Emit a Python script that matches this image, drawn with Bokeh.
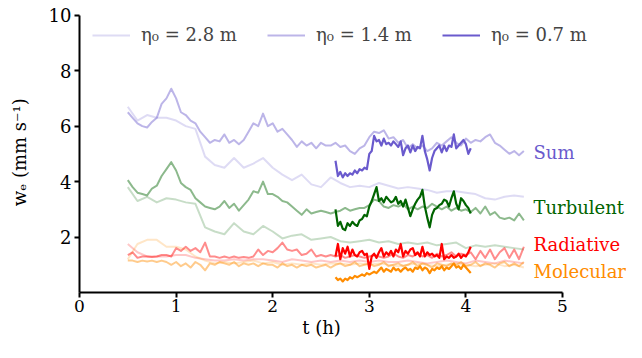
import numpy as np
from bokeh.plotting import figure
from bokeh.models import Range1d, FixedTicker, Legend, LegendItem, Label
from bokeh.embed import file_html
from bokeh.resources import INLINE

# time grids (h)
t_28 = np.round(np.arange(0.5, 4.6001, 0.1), 3)
t_14 = np.round(np.arange(0.5, 4.6001, 0.05), 3)
t_07 = np.round(np.arange(2.65, 4.0501, 0.025), 3)

# eta0 = 2.8 m
sum_28 = [6.7, 6.2, 6.4, 6.3, 6.3, 6.2, 6.0, 5.9, 4.9, 4.6,
          4.5, 4.85, 4.5, 4.65, 4.85, 4.5, 4.25, 4.05, 4.25, 3.9,
          3.8, 4.15, 3.95, 3.8, 3.85, 3.8, 3.95, 3.85, 3.75, 3.8,
          3.75, 3.7, 3.6, 3.65, 3.65, 3.6, 3.55, 3.4, 3.35, 3.45,
          3.5, 3.45]
turb_28 = [3.8, 3.3, 3.45, 3.25, 3.4, 3.35, 3.25, 3.2, 2.35, 2.2,
           2.1, 2.5, 2.2, 2.1, 2.4, 2.2, 1.95, 2.05, 2.1, 1.9,
           1.95, 2.0, 1.85, 1.8, 1.85, 1.9, 1.8, 1.85, 1.75, 1.8,
           1.75, 1.8, 1.7, 1.75, 1.8, 1.6, 1.7, 1.65, 1.7, 1.65,
           1.6, 1.55]
rad_28 = [1.75, 1.45, 1.3, 1.3, 1.3, 1.35, 1.35, 1.25, 1.2, 1.15,
          1.15, 1.2, 1.15, 1.2, 1.2, 1.15, 1.1, 1.2, 1.15, 1.1,
          1.15, 1.1, 1.15, 1.1, 1.15, 1.1, 1.15, 1.1, 1.1, 1.15,
          1.1, 1.05, 1.1, 1.15, 1.1, 1.05, 1.15, 1.1, 1.05, 1.15,
          1.1, 1.05]
mol_28 = [1.2, 1.75, 1.9, 1.9, 1.65, 1.65, 1.55, 1.3, 1.15, 1.05,
          1.1, 1.05, 1.1, 1.15, 1.05, 1.1, 1.0, 1.05, 1.0, 1.05,
          1.0, 1.05, 1.05, 1.0, 1.05, 1.0, 1.05, 1.0, 0.95, 1.0,
          1.05, 1.0, 0.95, 1.0, 1.05, 1.0, 0.95, 1.0, 1.05, 0.95,
          1.0, 0.9]

# eta0 = 1.4 m
sum_14 = [6.5, 6.3, 6.1, 6.0, 5.95, 6.15, 6.3, 6.8, 7.0, 7.35,
          7.0, 6.5, 6.4, 6.2, 6.1, 5.8, 5.6, 5.4, 5.5, 5.45,
          5.7, 5.4, 5.5, 5.35, 5.5, 5.8, 6.1, 6.0, 6.45, 6.0,
          6.1, 5.8, 5.9, 5.7, 5.5, 5.25, 5.45, 5.3, 5.4, 5.2,
          5.4, 5.3, 5.3, 5.4, 5.25, 5.3, 5.1, 5.0, 5.2, 5.3,
          5.6, 5.8, 5.75, 5.85, 5.55, 5.6, 5.4, 5.5, 5.2, 5.35,
          5.2, 5.3, 5.1, 5.2, 5.4, 5.3, 5.45, 5.6, 5.4, 5.3,
          5.55, 5.4, 5.5, 5.45, 5.6, 5.7, 5.4, 5.3, 5.15, 5.0,
          5.1, 4.95, 5.1]
turb_14 = [4.05, 3.8, 3.6, 3.55, 3.5, 3.75, 3.85, 4.2, 4.45, 4.7,
           4.4, 3.95, 3.8, 3.7, 3.4, 3.25, 3.1, 3.05, 3.0, 3.1,
           3.3, 3.05, 3.2, 2.95, 3.15, 3.35, 3.65, 3.6, 4.0, 3.55,
           3.55, 3.45, 3.3, 3.25, 3.1, 2.95, 2.8, 3.0, 2.85, 2.9,
           2.95, 2.9, 2.85, 2.9, 2.95, 3.05, 2.95, 3.0, 3.05, 3.05,
           3.15, 3.35, 3.3, 3.1, 3.05, 3.15, 3.1, 3.2, 3.0, 3.1,
           3.0, 3.1, 3.05, 3.2, 3.1, 3.0, 3.1, 2.95, 3.05, 2.95,
           3.0, 2.9, 3.05, 2.85, 3.1, 2.8, 2.9, 2.7, 2.65, 2.7,
           2.6, 2.85, 2.6]
rad_14 = [1.35, 1.45, 1.25, 1.3, 1.3, 1.28, 1.3, 1.35, 1.35, 1.3,
          1.6, 1.5, 1.65, 1.5, 1.6, 1.45, 1.8, 1.3, 1.3, 1.25,
          1.3, 1.25, 1.3, 1.25, 1.28, 1.25, 1.3, 1.55, 1.35, 1.5,
          1.45, 1.6, 1.8, 1.55, 1.5, 1.55, 1.35, 1.4, 1.55, 1.3,
          1.35, 1.3, 1.35, 1.3, 1.35, 1.25, 1.3, 1.35, 1.3, 1.25,
          1.3, 1.35, 1.3, 1.25, 1.3, 1.4, 1.3, 1.25, 1.35, 1.3,
          1.4, 1.3, 1.35, 1.25, 1.4, 1.3, 1.35, 1.45, 1.3, 1.4,
          1.35, 1.45, 1.2, 1.5, 1.25, 1.55, 1.2, 1.45, 1.6, 1.25,
          1.55, 1.2, 1.65]
mol_14 = [1.15, 1.15, 1.1, 1.15, 1.12, 1.15, 1.1, 1.15, 1.1, 1.0,
          1.1, 0.95, 1.05, 0.9, 1.1, 1.0, 0.8, 1.05, 1.0, 1.1,
          1.05, 1.0, 1.1, 0.95, 1.05, 1.0, 1.05, 0.95, 1.05, 1.0,
          1.0, 0.9, 1.05, 0.95, 1.0, 0.9, 1.0, 0.95, 1.0, 0.9,
          0.95, 1.0, 0.9, 1.0, 1.05, 0.95, 1.0, 1.1, 0.95, 1.0,
          1.05, 0.95, 1.0, 1.1, 0.95, 1.0, 1.05, 0.95, 1.0, 1.1,
          0.95, 1.05, 1.0, 0.9, 1.05, 1.0, 0.95, 1.05, 1.0, 1.1,
          0.95, 1.0, 1.1, 0.95, 1.05, 1.0, 0.9, 1.05, 1.1, 0.95,
          1.05, 0.95, 1.1]

# eta0 = 0.7 m
sum_07 = [4.75, 4.2, 4.35, 4.15, 4.3, 4.2, 4.3, 4.25, 4.4, 4.3,
          4.45, 4.4, 4.5, 4.45, 5.0, 5.1, 5.65, 5.45, 5.5, 5.3,
          5.55, 5.35, 5.4, 5.3, 5.45, 5.35, 5.25, 5.45, 4.95, 5.2,
          5.3, 5.05, 5.3, 5.1, 5.25, 5.2, 5.65, 5.1, 4.8, 4.4,
          4.85, 5.1, 5.2, 5.3, 5.05, 5.3, 5.1, 5.3, 5.25, 5.7,
          5.2, 5.3, 5.4, 5.5, 5.35, 5.0, 5.2]
turb_07 = [3.0, 2.4, 2.55, 2.3, 2.25, 2.5, 2.4, 2.55, 2.45, 2.4,
           2.6, 2.65, 2.8, 2.75, 3.1, 3.3, 3.55, 3.8, 3.3, 3.4,
           3.25, 3.45, 3.35, 3.25, 3.3, 3.45, 3.2, 3.3, 3.1, 3.35,
           3.05, 2.75, 3.0, 3.2, 3.35, 3.45, 3.7, 3.1, 2.7, 2.35,
           2.8, 3.0, 3.05, 3.15, 3.2, 3.35, 3.3, 3.1, 3.4, 3.65,
           3.2, 3.0, 3.4, 3.3, 3.15, 3.05, 2.85]
rad_07 = [1.3, 1.75, 1.2, 1.6, 1.4, 1.65, 1.3, 1.55, 1.35, 1.3,
          1.45, 1.5, 1.35, 1.4, 0.85, 1.3, 1.4, 1.25, 1.45, 1.6,
          1.3, 1.45, 1.35, 1.5, 1.3, 1.55, 1.45, 1.75, 1.3, 1.5,
          1.4, 1.55, 1.6, 1.35, 1.45, 1.3, 1.65, 1.3, 1.45, 1.35,
          1.4, 1.3, 1.35, 1.25, 1.75, 1.2, 1.3, 1.25, 1.35, 1.25,
          1.3, 1.4, 1.25, 1.35, 1.3, 1.45, 1.65]
mol_07 = [0.55, 0.45, 0.5, 0.4, 0.5, 0.45, 0.55, 0.5, 0.6, 0.55,
          0.6, 0.65, 0.6, 0.7, 0.65, 0.7, 0.75, 0.7, 0.8, 0.9,
          0.75, 0.85, 0.8, 0.75, 0.9, 0.8, 0.85, 0.75, 0.85, 0.9,
          0.8, 0.85, 0.75, 0.9, 0.85, 0.95, 0.8, 0.9, 0.85, 0.7,
          0.85, 0.8, 0.9, 0.85, 0.95, 0.8, 0.9, 0.85, 0.95, 1.05,
          0.9, 0.95, 0.85, 1.0, 0.9, 0.8, 0.7]

run_labels = ["η₀ = 2.8 m", "η₀ = 1.4 m", "η₀ = 0.7 m"]
comp_labels = ["Sum", "Turbulent", "Radiative", "Molecular"]
comp_colors = ["#6a5acd", "#006400", "#ff0000", "#ff8c00"]
comp_label_y = [5.04, 3.06, 1.72, 0.76]
x_ticks = [0, 1, 2, 3, 4, 5]
y_ticks = [2, 4, 6, 8, 10]
x_label = "t (h)"
y_label = "wₑ (mm s⁻¹)"

FONT = "'DejaVu Serif'"
NBSP = "\u00a0"

W, H = 626, 342
LEFT, BOTTOM = 79, 50
PX_PER_H = 96.6
Y10 = 14.7  # figure px of y = 10
px_per_unit = (H - BOTTOM - Y10) / 10.0
x_end = (W - LEFT) / PX_PER_H
y_end = (H - BOTTOM) / px_per_unit

p = figure(width=W, height=H, output_backend="svg", toolbar_location=None,
           x_range=Range1d(0, x_end), y_range=Range1d(0, y_end),
           min_border_left=LEFT, min_border_right=0, min_border_top=0,
           min_border_bottom=BOTTOM)
p.grid.visible = False
p.outline_line_color = None
p.background_fill_color = "white"

runs = [
    (t_28, [sum_28, turb_28, rad_28, mol_28], 0.22, 2.0),
    (t_14, [sum_14, turb_14, rad_14, mol_14], 0.45, 2.0),
    (t_07, [sum_07, turb_07, rad_07, mol_07], 1.0, 2.2),
]
legend_renderers = []
for t, series, alpha, lw in runs:
    first = None
    for vals, col in zip(series, comp_colors):
        r = p.line(t, vals, line_color=col, line_alpha=alpha, line_width=lw,
                   line_join="round")
        if first is None:
            first = r
    legend_renderers.append(first)

legend = Legend(items=[LegendItem(label=lab, renderers=[r])
                       for lab, r in zip(run_labels, legend_renderers)],
                orientation="horizontal", location=(13, 247))
legend.border_line_alpha = 0
legend.background_fill_alpha = 0
legend.label_text_font = FONT
legend.label_text_font_size = "18px"
legend.glyph_width = 38
legend.glyph_height = 20
legend.label_height = 20
legend.label_standoff = 11
legend.spacing = 30
legend.padding = 0
legend.margin = 0
p.add_layout(legend)

for lab, col, yy in zip(comp_labels, comp_colors, comp_label_y):
    p.add_layout(Label(x=4.70, y=yy, text=lab, text_color=col,
                       text_font=FONT, text_font_size="18px",
                       text_baseline="middle", text_align="left"))

for ax in (p.xaxis[0], p.yaxis[0]):
    ax.axis_line_width = 2
    ax.axis_line_color = "black"
    ax.major_tick_line_width = 2
    ax.major_tick_out = 5
    ax.major_tick_in = 0
    ax.minor_tick_line_color = None
    ax.major_label_text_font = FONT
    ax.major_label_text_font_size = "18px"
    ax.major_label_text_color = "black"
    ax.axis_label_text_font = FONT
    ax.axis_label_text_font_size = "18px"
    ax.axis_label_text_font_style = "normal"
    ax.axis_label_text_color = "black"

p.xaxis.major_label_text_font_size = "17px"
p.xaxis.bounds = (0, 5)
p.yaxis.bounds = (0, 10)
p.xaxis.ticker = FixedTicker(ticks=x_ticks)
p.yaxis.ticker = FixedTicker(ticks=y_ticks)
# the frame runs past t = 5 to hold the right-hand labels; pad so the
# axis titles stay centred on the drawn axis lines
p.xaxis.axis_label = x_label + NBSP * 11
p.yaxis.axis_label = y_label + NBSP * 2
p.xaxis.major_label_standoff = 2
p.yaxis.major_label_standoff = 3
p.xaxis.axis_label_standoff = 2
p.yaxis.axis_label_standoff = 16

open("out.html", "w").write(file_html(p, INLINE))
